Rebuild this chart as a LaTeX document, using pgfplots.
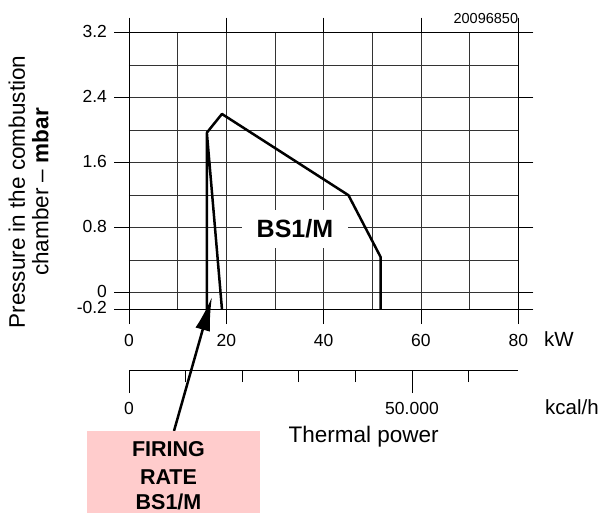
\documentclass[border=0pt]{standalone}
\usepackage{pgfplots}
\pgfplotsset{compat=1.18}
\usetikzlibrary{arrows.meta}
\usepackage{fontspec}
\setmainfont{Liberation Sans}
\newcommand{\tickfont}{\fontsize{17.5}{20}\selectfont}
\newcommand{\bigfont}{\fontsize{22.5}{26}\selectfont}
\newcommand{\unitfont}{\fontsize{20.5}{24}\selectfont}
\definecolor{pinkbox}{RGB}{255,204,204}

\begin{document}
\begin{tikzpicture}
\path[use as bounding box] (-129pt,-204pt) rectangle (472pt,309pt);

% main diagram: pressure vs kW
\begin{axis}[
  at={(0,0)}, anchor=south west,
  scale only axis, width=389.3pt, height=276.3pt,
  xmin=0, xmax=80, ymin=-0.2, ymax=3.2,
  xtick={0,20,40,60,80},
  minor xtick={10,30,50,70},
  ytick={-0.2,0,0.8,1.6,2.4,3.2},
  yticklabels={-0.2,0,0.8,1.6,2.4,3.2},
  minor ytick={0.4,1.2,2.0,2.8},
  grid=both,
  grid style={black!80, line width=0.9pt},
  minor grid style={black!80, line width=0.9pt},
  axis line style={black, line width=0.9pt},
  tick style={black, line width=0.9pt},
  tick align=outside,
  major tick length=15pt, minor tick length=0pt,
  /pgf/number format/assume math mode=true,
  tick label style={font=\tickfont},
  xticklabel style={yshift=-7pt},
  yticklabel style={xshift=-3.5pt, yshift=1.5pt},
  clip=false,
]
  \node[fill=white, minimum width=106pt, minimum height=38pt, inner sep=0pt,
        font=\fontsize{25}{28}\selectfont\bfseries] at (axis cs:34.1,0.79) {BS1/M};

  \addplot[black, line width=2.5pt, line join=round] coordinates {
    (16,-0.2) (16,1.97) (19.1,-0.2)
  };
  \addplot[black, line width=2.5pt, line join=round] coordinates {
    (16,1.97) (19.1,2.2) (45.1,1.2) (51.7,0.44) (51.7,-0.2)
  };

  % arrow from the firing rate box
  \draw[black, line width=2.5pt, -{Latex[length=34pt,width=15pt]}]
    (axis cs:9.25,-1.7) -- (axis cs:17.06,-0.05);
\end{axis}

% second scale in kcal/h
\begin{axis}[
  at={(0,-61pt)}, anchor=south west,
  scale only axis, width=389.3pt, height=10pt,
  xmin=0, xmax=68787.6, ymin=0, ymax=1,
  axis x line*=bottom, axis y line=none,
  scaled x ticks=false,
  xtick={10000,20000,30000,40000,60000},
  xticklabels={},
  extra x ticks={0,50000},
  extra x tick labels={0,50.000},
  extra x tick style={major tick length=23pt, xticklabel style={yshift=-6pt}},
  axis line style={black, line width=0.9pt},
  tick style={black, line width=0.9pt},
  tick align=outside,
  major tick length=12pt,
  /pgf/number format/assume math mode=true,
  tick label style={font=\tickfont},
]
\end{axis}

\node[anchor=base east, font=\fontsize{14.5}{16}\selectfont, inner sep=0pt] at (389.3pt,285.7pt) {20096850};
\node[anchor=base west, font=\unitfont, inner sep=0pt] at (415pt,-37.7pt) {kW};
\node[anchor=base west, font=\unitfont, inner sep=0pt] at (416pt,-105.7pt) {kcal/h};
\node[anchor=base, font=\bigfont, inner sep=0pt] at (234.7pt,-133.3pt) {Thermal power};
\node[anchor=base, rotate=90, font=\bigfont, inner sep=0pt] at (-104pt,117pt) {Pressure in the combustion};
\node[anchor=base, rotate=90, font=\bigfont, inner sep=0pt] at (-80.7pt,117pt) {chamber -- \textbf{mbar}};

\fill[pinkbox] (-42pt,-122pt) rectangle (131pt,-204pt);
\begin{scope}[font=\fontsize{21.5}{24}\selectfont\bfseries]
\node[anchor=base, inner sep=0pt] at (39.5pt,-147pt) {FIRING};
\node[anchor=base, inner sep=0pt] at (39.5pt,-175.7pt) {RATE};
\node[anchor=base, inner sep=0pt] at (39.5pt,-200.3pt) {BS1/M};
\end{scope}
\end{tikzpicture}
\end{document}
